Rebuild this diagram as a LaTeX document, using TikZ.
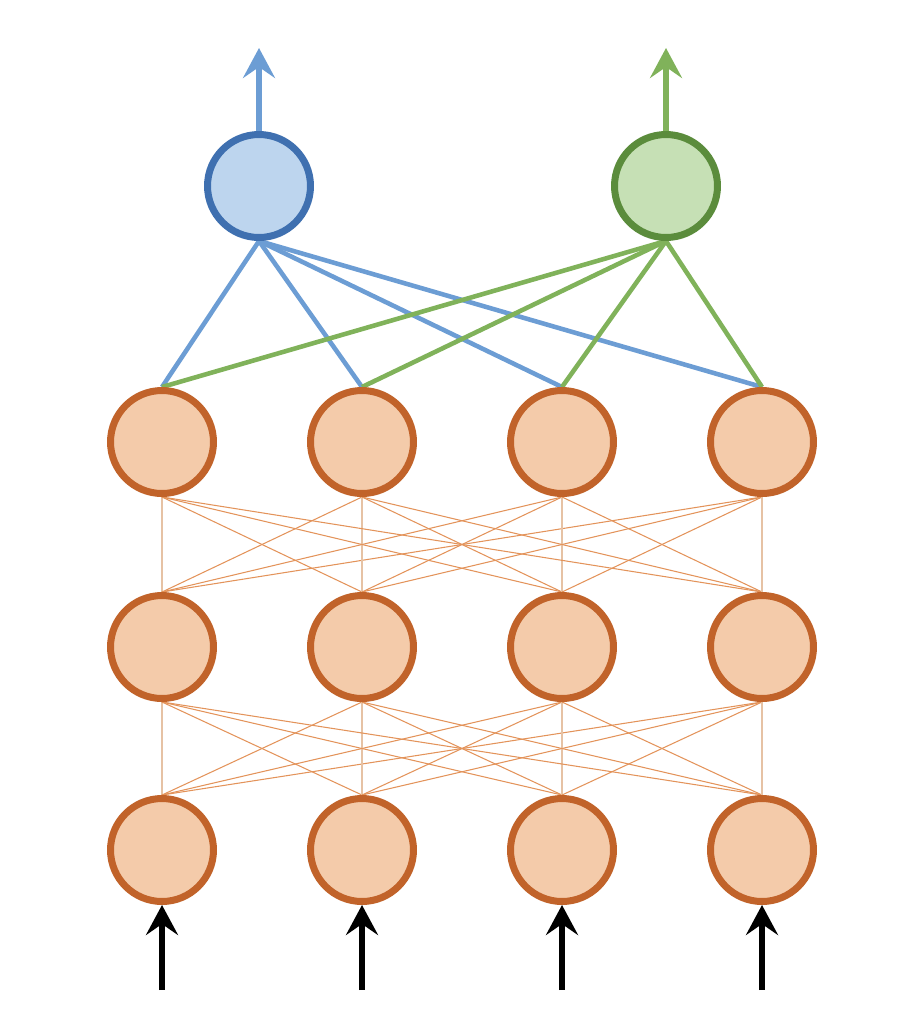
\documentclass[tikz,border=0pt]{standalone}
\usepackage{tikz}
\usetikzlibrary{arrows.meta,backgrounds}
\definecolor{clUnit}{HTML}{F4CBAA}
\definecolor{clUnitEdge}{HTML}{C1632A}
\definecolor{clWire}{HTML}{E3935A}
\definecolor{clWireV}{HTML}{E6C2A4}
\definecolor{clBlue}{HTML}{BDD5EE}
\definecolor{clBlueEdge}{HTML}{3F70B0}
\definecolor{clBlueWire}{HTML}{6C9DD4}
\definecolor{clGreen}{HTML}{C6E0B5}
\definecolor{clGreenEdge}{HTML}{5B8C3C}
\definecolor{clGreenWire}{HTML}{80B25A}
\tikzset{
  unit/.style={circle, draw=clUnitEdge, fill=clUnit, line width=0.14cm,
               minimum size=2.06cm, inner sep=0pt},
  headA/.style={unit, draw=clBlueEdge, fill=clBlue},
  headB/.style={unit, draw=clGreenEdge, fill=clGreen},
  wire/.style={draw=clWire, line width=0.6pt},
  wirev/.style={draw=clWireV, line width=1pt},
  wireA/.style={draw=clBlueWire, line width=2.6pt},
  wireB/.style={draw=clGreenWire, line width=2.6pt},
  feed/.style={-{Stealth[length=6mm, width=6.4mm, inset=2.2mm]}, line width=3pt},
}
\begin{document}
\begin{tikzpicture}[x=0.02cm, y=-0.02cm]
  \useasboundingbox (0,0) rectangle (904,1032);
  % hidden layers, bottom to top
  \foreach \i/\x in {1/162, 2/362, 3/562, 4/762} {
    \node[unit] (l1-\i) at (\x,850) {};
    \node[unit] (l2-\i) at (\x,647) {};
    \node[unit] (l3-\i) at (\x,442) {};
  }
  \node[headA] (outA) at (259,186) {};
  \node[headB] (outB) at (666,186) {};
  \coordinate (topA) at (259,48);
  \coordinate (topB) at (666,48);
  % full connections between layers
  \begin{scope}[on background layer]
    \foreach \i in {1,...,4} {
      \foreach \j in {1,...,4} {
        \ifnum\i=\j
          \draw[wirev] (l1-\i.north) -- (l2-\j.south);
          \draw[wirev] (l2-\i.north) -- (l3-\j.south);
        \else
          \draw[wire] (l1-\i.north) -- (l2-\j.south);
          \draw[wire] (l2-\i.north) -- (l3-\j.south);
        \fi
      }
    }
    \foreach \i in {1,...,4} \draw[wireA] (l3-\i.north) -- (outA.south);
    \foreach \i in {1,...,4} \draw[wireB] (l3-\i.north) -- (outB.south);
  \end{scope}
  % outputs
  \draw[feed, clBlueWire] (outA.north) -- (topA);
  \draw[feed, clGreenWire] (outB.north) -- (topB);
  % inputs
  \foreach \i/\x in {1/162, 2/362, 3/562, 4/762} {
    \coordinate (in-\i) at (\x,990);
    \draw[feed, black] (in-\i) -- (l1-\i.south);
  }
\end{tikzpicture}
\end{document}
